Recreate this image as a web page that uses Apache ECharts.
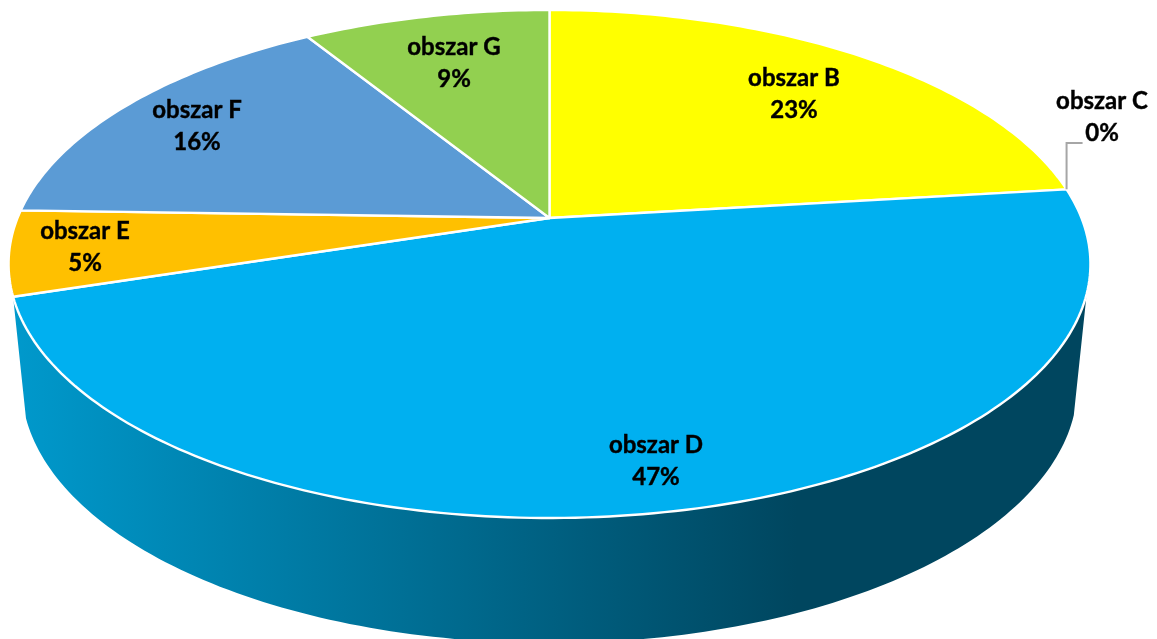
<!DOCTYPE html>
<html>
<head>
<meta charset="utf-8">
<style>
  html, body { margin: 0; padding: 0; background: #fff; }
  #main { width: 1157px; height: 639px; }
</style>
<script src="https://cdn.jsdelivr.net/npm/echarts@6/dist/echarts.min.js"></script>
</head>
<body>
<div id="main"></div>
<script>
var categories = ["obszar B", "obszar C", "obszar D", "obszar E", "obszar F", "obszar G"];
var shares = [23.1, 0, 47, 5.4, 15.7, 8.8];
var colors = ["#FFFF00", "#A5A5A5", "#00B0F0", "#FFC000", "#5B9BD5", "#92D050"];

// where the text sits, same order as categories
var labelCenters = [[794, 94], [1102, 117], [656, 461], [85, 247], [197, 126], [454, 63]];

// perspective of the tilted pie: apex, radii and how much the near side grows
var apexX = 549.5, apexY = 218;
var radiusX = 532, radiusY = 245.7, tilt = -0.181;
// bottom rim of the side wall
var wallDrop = 120.3, wallScaleX = 0.976, wallScaleY = 1.016;
var wallFromAngle = 107; // degrees, where the wall shows up on the right

var total = shares.reduce(function (a, b) { return a + b; }, 0);

function rimPoint(deg, scaleX, scaleY, drop) {
  var t = deg * Math.PI / 180;
  var u = Math.sin(t), v = -Math.cos(t);
  var d = 1 + tilt * v;
  return [
    apexX + scaleX * radiusX * u / d,
    apexY + drop + scaleY * radiusY * v / d
  ];
}

function arcPoints(from, to, scaleX, scaleY, drop) {
  var pts = [];
  var steps = Math.max(2, Math.ceil(Math.abs(to - from)));
  for (var i = 0; i <= steps; i++) {
    pts.push(rimPoint(from + (to - from) * i / steps, scaleX, scaleY, drop));
  }
  return pts;
}

function startAngle(idx) {
  var sum = 0;
  for (var i = 0; i < idx; i++) sum += shares[i];
  return sum / total * 360;
}

function renderWall(params) {
  var idx = params.dataIndex;
  var end = startAngle(idx + 1);
  var top = arcPoints(wallFromAngle, end, 1, 1, 0);
  var bottom = arcPoints(end, wallFromAngle, wallScaleX, wallScaleY, wallDrop);
  return {
    type: "polygon",
    shape: { points: top.concat(bottom) },
    style: {
      fill: new echarts.graphic.LinearGradient(0, 0, 1, 0, [
        { offset: 0, color: "#0099CC" },
        { offset: 0.73, color: "#00465F" },
        { offset: 1, color: "#00465F" }
      ])
    }
  };
}

function renderSlice(params, api) {
  var idx = params.dataIndex;
  var from = startAngle(idx);
  var to = from + api.value(0) / total * 360;
  var children = [];
  if (to > from) {
    children.push({
      type: "polygon",
      shape: { points: [[apexX, apexY]].concat(arcPoints(from, to, 1, 1, 0)) },
      style: { fill: colors[idx], stroke: "#fff", lineWidth: 2.4, lineJoin: "round" }
    });
  }
  return { type: "group", children: children };
}

function renderLabel(params, api) {
  var idx = params.dataIndex;
  var children = [];
  if (api.value(0) === 0) {
    // leader line of the empty slice
    var edge = rimPoint(startAngle(idx), 1, 1, 0);
    children.push({
      type: "polyline",
      shape: { points: [edge, [edge[0], 143], [edge[0] + 16, 143]] },
      style: { fill: null, stroke: "#A6A6A6", lineWidth: 2 }
    });
  }
  children.push({
    type: "text",
    x: labelCenters[idx][0],
    y: labelCenters[idx][1],
    style: {
      text: categories[idx] + "\n" + Math.round(api.value(0)) + "%",
      fill: "#000",
      stroke: "#000",
      lineWidth: 0.4,
      font: "bold 24px Lato",
      lineHeight: 32,
      align: "center",
      verticalAlign: "middle"
    }
  });
  return { type: "group", children: children };
}

var chart = echarts.init(document.getElementById("main"));
chart.setOption({
  animation: false,
  backgroundColor: "#fff",
  series: [
    {
      type: "custom",
      coordinateSystem: "none",
      silent: true,
      // only the big slice faces the viewer
      data: shares,
      renderItem: function (params, api) {
        if (categories[params.dataIndex] !== "obszar D") return { type: "group", children: [] };
        return renderWall(params, api);
      }
    },
    {
      type: "custom",
      coordinateSystem: "none",
      silent: true,
      data: shares,
      renderItem: renderSlice
    },
    {
      type: "custom",
      coordinateSystem: "none",
      silent: true,
      data: shares,
      renderItem: renderLabel
    }
  ]
});
</script>
</body>
</html>
